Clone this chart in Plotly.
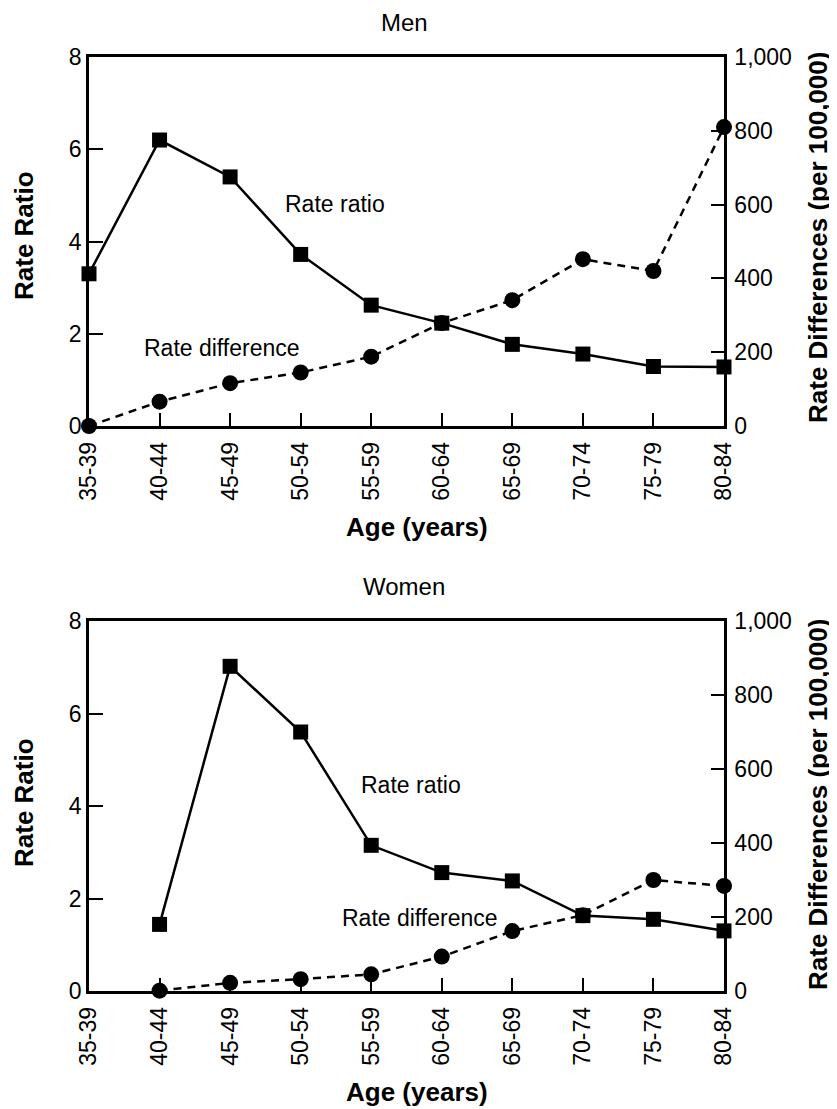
import plotly.graph_objects as go

ages = ["35-39", "40-44", "45-49", "50-54", "55-59", "60-64", "65-69", "70-74", "75-79", "80-84"]

men_rate_ratio = [3.3, 6.2, 5.4, 3.72, 2.62, 2.23, 1.77, 1.56, 1.29, 1.28]
men_rate_diff = [0, 66, 116, 145, 188, 279, 341, 452, 420, 810]

women_rate_ratio = [None, 1.44, 7.02, 5.6, 3.15, 2.56, 2.38, 1.63, 1.55, 1.30]
women_rate_diff = [None, 1, 22, 32, 45, 93, 162, 205, 300, 284]

left_ticks = [0, 2, 4, 6, 8]
right_ticks = [0, 200, 400, 600, 800, 1000]

FONT = "Liberation Sans, Arial, Helvetica, sans-serif"
W, H = 837, 1109
OFF = 8  # page body margin offset
L, R = 89 - OFF, 724 - OFF
TOP, BOT = 57 - OFF, 991 - OFF


def px(x):
    return (x - OFF - L) / (R - L)


def py(y):
    return (BOT - (y - OFF)) / (BOT - TOP)


fig = go.Figure()

sq = dict(symbol="square", size=15, color="black")
circ = dict(symbol="circle", size=16, color="black")
solid = dict(color="black", width=2.5)
dashed = dict(color="black", width=2.5, dash="8px,6px")

fig.add_trace(go.Scatter(x=ages, y=men_rate_diff, mode="lines+markers", line=dashed,
                         marker=circ, xaxis="x", yaxis="y2", cliponaxis=False,
                         showlegend=False, name="Rate difference"))
fig.add_trace(go.Scatter(x=ages, y=men_rate_ratio, mode="lines+markers", line=solid,
                         marker=sq, xaxis="x", yaxis="y", cliponaxis=False,
                         showlegend=False, name="Rate ratio"))
fig.add_trace(go.Scatter(x=ages, y=women_rate_diff, mode="lines+markers", line=dashed,
                         marker=circ, xaxis="x2", yaxis="y4", cliponaxis=False,
                         showlegend=False, name="Rate difference", connectgaps=False))
fig.add_trace(go.Scatter(x=ages, y=women_rate_ratio, mode="lines+markers", line=solid,
                         marker=sq, xaxis="x2", yaxis="y3", cliponaxis=False,
                         showlegend=False, name="Rate ratio", connectgaps=False))

top_dom = [py(426), 1]
bot_dom = [0, py(621)]

tickfont = dict(family=FONT, size=23, color="black")

xcommon = dict(type="category", categoryorder="array", categoryarray=ages,
               range=[0, len(ages) - 1], showline=True, linecolor="black", linewidth=2.5,
               mirror=True, ticks="inside", ticklen=13, tickwidth=2, tickcolor="black",
               tickangle=-90, tickfont=tickfont, showgrid=False, zeroline=False,
               ticklabelstandoff=4, domain=[0, 1])
yleft = dict(range=[0, 8], tickvals=left_ticks, showline=True, linecolor="black",
             linewidth=2.5, ticks="inside", ticklen=14, tickwidth=2, tickcolor="black",
             tickfont=tickfont, showgrid=False, zeroline=False)
yright = dict(range=[0, 1000], tickvals=right_ticks, tickformat=",d", showline=True,
              linecolor="black", linewidth=2.5, ticks="inside", ticklen=13, tickwidth=2,
              tickcolor="black", tickfont=tickfont, showgrid=False, zeroline=False,
              ticklabelstandoff=3, side="right")

fig.update_layout(
    width=W, height=H,
    margin=dict(l=L, r=W - R, t=TOP, b=H - BOT),
    paper_bgcolor="white", plot_bgcolor="white",
    font=dict(family=FONT, color="black"),
    showlegend=False,
    xaxis=dict(xcommon, anchor="y"),
    xaxis2=dict(xcommon, anchor="y3"),
    yaxis=dict(yleft, domain=top_dom, anchor="x"),
    yaxis2=dict(yright, overlaying="y", anchor="x"),
    yaxis3=dict(yleft, domain=bot_dom, anchor="x2"),
    yaxis4=dict(yright, overlaying="y3", anchor="x2"),
)

ann = []


def add_text(text, x, y, size, bold=False, angle=0):
    t = "<b>%s</b>" % text if bold else text
    ann.append(dict(text=t, x=px(x), y=py(y), xref="paper", yref="paper",
                    showarrow=False, textangle=angle, xanchor="center", yanchor="middle",
                    font=dict(family=FONT, size=size, color="black")))


add_text("Men", 404, 23, 24)
add_text("Women", 404, 586, 24)
add_text("Rate ratio", 335, 204, 23)
add_text("Rate difference", 222, 348, 23)
add_text("Rate ratio", 411, 785, 23)
add_text("Rate difference", 420, 918, 23)
add_text("Age (years)", 417, 527, 26, bold=True)
add_text("Age (years)", 417, 1092, 26, bold=True)
add_text("Rate Ratio", 24, 236, 26, bold=True, angle=-90)
add_text("Rate Ratio", 24, 803, 26, bold=True, angle=-90)
add_text("Rate Differences (per 100,000)", 818, 238, 26, bold=True, angle=-90)
add_text("Rate Differences (per 100,000)", 818, 805, 26, bold=True, angle=-90)

fig.update_layout(annotations=ann)
fig.write_html("out.html")
